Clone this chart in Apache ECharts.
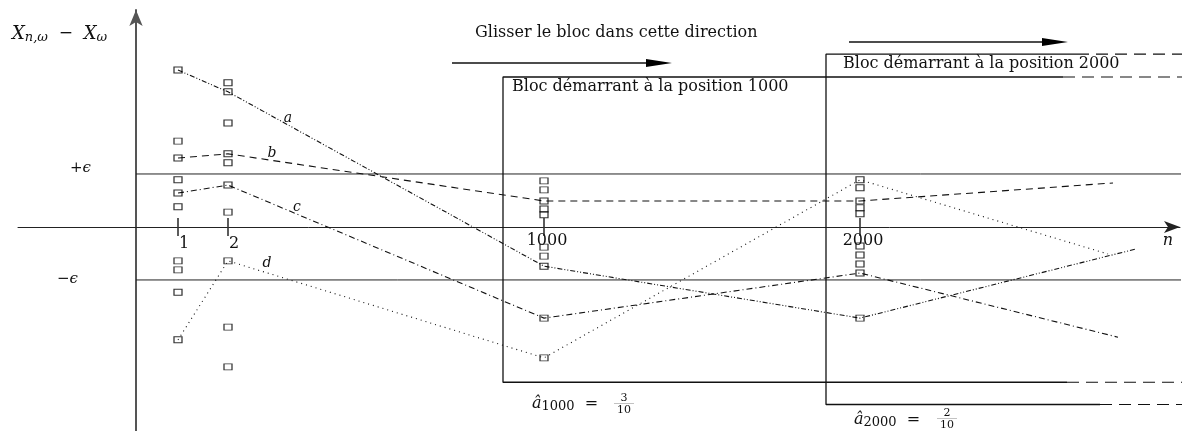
<!DOCTYPE html>
<html>
<head>
<meta charset="utf-8">
<title>Glisser le bloc</title>
<style>
    html, body { margin: 0; padding: 0; background: #fff; }
    #main { width: 1182px; height: 431px; }
</style>
<script src="https://cdn.jsdelivr.net/npm/echarts@6/dist/echarts.min.js"></script>
</head>
<body>
<div id="main"></div>
<script>
// positions schematiques des colonnes n = 1, 2, 1000, 2000 (axe horizontal)
var nLabels = ['1', '2', '1000', '2000'];
var nPos = [42, 92, 408, 724];

// ecarts X(n,w) - X(w) en unites de epsilon, pour chaque colonne
var col1 = [2.96, 1.62, 1.30, 0.89, 0.64, 0.38, -0.64, -0.81, -1.23, -2.13];
var col2 = [2.72, 2.55, 1.96, 1.38, 1.21, 0.79, 0.28, -0.64, -1.89, -2.64];
var col1000 = [0.87, 0.70, 0.49, 0.34, 0.23, -0.38, -0.55, -0.74, -1.72, -2.47];
var col2000 = [0.89, 0.74, 0.49, 0.36, 0.25, -0.36, -0.53, -0.70, -0.87, -1.72];

// trajectoires a, b, c, d (valeurs aux colonnes puis point final)
var lineNames = ['a', 'b', 'c', 'd'];
var aVals = [2.96, 2.55, -0.74, -1.72, -0.42];
var bVals = [1.30, 1.38, 0.49, 0.49, 0.83];
var cVals = [0.64, 0.79, -1.72, -0.87, -2.08];
var dVals = [-2.13, -0.64, -2.47, 0.89, -0.51];
var lineEndX = [999, 977, 982, 972];

// blocs glissants (debut 1000 et 2000)
var blockLabels = ['Bloc démarrant à la position 1000', 'Bloc démarrant à la position 2000'];
var blockLeft = [367, 690];
var blockTop = [2.83, 3.26];
var blockBottom = [-2.93, -3.35];
var blockTopSolidEnd = [927, 941];
var blockBottomSolidEnd = [931, 964];
var blockRightEdge = 1046;
var epsilon = 1;

var myChart = echarts.init(document.getElementById('main'));

var serif = '"DejaVu Serif", serif';
var ink = '#111';

function lineData(vals, endX) {
    var res = [];
    for (var i = 0; i < nPos.length; i++) {
        res.push([nPos[i], vals[i]]);
    }
    res.push([endX, vals[vals.length - 1]]);
    return res;
}

function colData(x, vals) {
    return vals.map(function (v) { return [x, v]; });
}

var dashes = [
    [5, 2, 1, 2, 1, 2],   // a : tiret point point
    [7, 5],               // b : tirets
    [6, 3, 1, 3],         // c : tiret point
    [1, 4]                // d : pointille
];
var allVals = [aVals, bVals, cVals, dVals];

var series = [];

// droites +epsilon / -epsilon
[epsilon, -epsilon].forEach(function (e) {
    series.push({
        type: 'line',
        data: [[0, e], [blockRightEdge, e]],
        symbol: 'none',
        clip: false,
        silent: true,
        lineStyle: { color: '#222', width: 1 },
        z: 1
    });
});

// blocs
for (var k = 0; k < blockLeft.length; k++) {
    series.push({
        type: 'line',
        data: [[blockTopSolidEnd[k], blockTop[k]], [blockLeft[k], blockTop[k]],
               [blockLeft[k], blockBottom[k]], [blockBottomSolidEnd[k], blockBottom[k]]],
        symbol: 'none',
        silent: true,
        lineStyle: { color: '#111', width: 1.3 },
        z: 1
    });
    series.push({
        type: 'line',
        data: [[blockTopSolidEnd[k], blockTop[k]], [blockRightEdge, blockTop[k]]],
        symbol: 'none',
        clip: false,
        silent: true,
        lineStyle: { color: '#111', width: 1.2, type: [12, 7] },
        z: 1
    });
    series.push({
        type: 'line',
        data: [[blockBottomSolidEnd[k], blockBottom[k]], [blockRightEdge, blockBottom[k]]],
        symbol: 'none',
        clip: false,
        silent: true,
        lineStyle: { color: '#111', width: 1.2, type: [12, 7] },
        z: 1
    });
}

// trajectoires
for (var j = 0; j < allVals.length; j++) {
    series.push({
        name: lineNames[j],
        type: 'line',
        data: lineData(allVals[j], lineEndX[j]),
        symbol: 'none',
        silent: true,
        lineStyle: { color: ink, width: 1.1, type: dashes[j] },
        z: 2
    });
}

// petits carres
[col1, col2, col1000, col2000].forEach(function (vals, i) {
    series.push({
        type: 'scatter',
        data: colData(nPos[i], vals),
        symbol: 'rect',
        symbolSize: [8, 6],
        silent: true,
        itemStyle: { color: 'rgba(0,0,0,0)', borderColor: '#000', borderWidth: 1.1 },
        z: 3
    });
});

// graduations et libelles de l'axe n
series.push({
    type: 'custom',
    data: nPos.map(function (x, i) { return [x, 0, i]; }),
    silent: true,
    renderItem: function (params, api) {
        var p1 = api.coord([api.value(0), 0.17]);
        var p2 = api.coord([api.value(0), -0.17]);
        var lab = nLabels[api.value(2)];
        var dx = lab.length === 1 ? 6 : 3;
        var dy = lab.length === 1 ? 17 : 14;
        return {
            type: 'group',
            children: [{
                type: 'line',
                shape: { x1: p1[0], y1: p1[1], x2: p2[0], y2: p2[1] },
                style: { stroke: '#333', lineWidth: 1.6 }
            }, {
                type: 'text',
                x: p1[0] + dx,
                y: api.coord([api.value(0), 0])[1] + dy,
                style: { text: lab, font: '16px ' + serif, fill: '#111', align: 'center', verticalAlign: 'middle' }
            }]
        };
    },
    z: 4
});

function txt(x, y, text, font, align) {
    return {
        type: 'text', x: x, y: y, silent: true,
        style: { text: text, font: font, fill: '#111', align: align || 'left', verticalAlign: 'middle' }
    };
}

var graphics = [
    txt(475, 33, 'Glisser le bloc dans cette direction', '16px ' + serif),
    { type: 'line', shape: { x1: 452, y1: 63, x2: 650, y2: 63 }, style: { stroke: '#111', lineWidth: 1.3 } },
    { type: 'polygon', shape: { points: [[646, 59], [672, 63], [646, 67]] }, style: { fill: '#000' } },
    { type: 'line', shape: { x1: 849, y1: 42, x2: 1045, y2: 42 }, style: { stroke: '#111', lineWidth: 1.3 } },
    { type: 'polygon', shape: { points: [[1042, 38], [1068, 42], [1042, 46]] }, style: { fill: '#000' } },
    txt(512, 87, blockLabels[0], '16px ' + serif),
    txt(843, 64, blockLabels[1], '16px ' + serif),
    {
        type: 'text', x: 12, y: 34, silent: true,
        style: {
            text: '{x|X}{s|n,ω}{o|  −  }{x|X}{s|ω}',
            verticalAlign: 'middle',
            rich: {
                x: { font: 'italic 18px ' + serif, fill: '#111' },
                o: { font: '17px ' + serif, fill: '#111' },
                s: { font: 'italic 13px ' + serif, fill: '#111', padding: [7, 0, 0, 0] }
            }
        }
    },
    {
        type: 'text', x: 70, y: 168, silent: true,
        style: {
            text: '+{e|ϵ}', font: '15px ' + serif, fill: '#111', verticalAlign: 'middle',
            rich: { e: { font: 'italic 15px ' + serif, fill: '#111' } }
        }
    },
    {
        type: 'text', x: 57, y: 279, silent: true,
        style: {
            text: '−{e|ϵ}', font: '15px ' + serif, fill: '#111', verticalAlign: 'middle',
            rich: { e: { font: 'italic 15px ' + serif, fill: '#111' } }
        }
    },
    txt(1168, 241, 'n', 'italic 16px ' + serif, 'center'),
    txt(288, 118, 'a', 'italic 14px ' + serif, 'center'),
    txt(272, 153, 'b', 'italic 14px ' + serif, 'center'),
    txt(297, 207, 'c', 'italic 14px ' + serif, 'center'),
    txt(267, 263, 'd', 'italic 14px ' + serif, 'center'),
    {
        type: 'text', x: 532, y: 404, silent: true,
        style: {
            text: '{x|â}{s|1000}{o|  =  }', verticalAlign: 'middle',
            rich: {
                x: { font: 'italic 16px ' + serif, fill: '#111' },
                o: { font: '16px ' + serif, fill: '#111' },
                s: { font: '13px ' + serif, fill: '#111', padding: [6, 0, 0, 0] }
            }
        }
    },
    txt(624, 398, '3', '11px ' + serif, 'center'),
    { type: 'line', shape: { x1: 614, y1: 403.5, x2: 634, y2: 403.5 }, style: { stroke: '#999', lineWidth: 0.6 } },
    txt(624, 410, '10', '11px ' + serif, 'center'),
    {
        type: 'text', x: 854, y: 420, silent: true,
        style: {
            text: '{x|â}{s|2000}{o|  =  }', verticalAlign: 'middle',
            rich: {
                x: { font: 'italic 16px ' + serif, fill: '#111' },
                o: { font: '16px ' + serif, fill: '#111' },
                s: { font: '13px ' + serif, fill: '#111', padding: [6, 0, 0, 0] }
            }
        }
    },
    txt(947, 413, '2', '11px ' + serif, 'center'),
    { type: 'line', shape: { x1: 937, y1: 418.5, x2: 957, y2: 418.5 }, style: { stroke: '#999', lineWidth: 0.6 } },
    txt(947, 425, '10', '11px ' + serif, 'center')
];

var option = {
    animation: false,
    backgroundColor: '#fff',
    grid: { left: 18, right: 2, top: 10, bottom: 0, containLabel: false, outerBoundsMode: 'none' },
    xAxis: {
        type: 'value',
        min: -118,
        max: 1044,
        splitLine: { show: false },
        axisTick: { show: false },
        axisLabel: { show: false },
        axisLine: {
            onZero: true,
            lineStyle: { color: '#222', width: 1 },
            symbol: ['none', 'arrow'],
            symbolSize: [9, 16]
        }
    },
    yAxis: {
        type: 'value',
        min: -3.85,
        max: 4.094,
        splitLine: { show: false },
        axisTick: { show: false },
        axisLabel: { show: false },
        axisLine: {
            onZero: true,
            lineStyle: { color: '#555', width: 2 },
            symbol: ['none', 'arrow'],
            symbolSize: [10, 16]
        }
    },
    series: series,
    graphic: graphics
};

myChart.setOption(option);
window.addEventListener('resize', function () {
    myChart.resize();
});
</script>
</body>
</html>
